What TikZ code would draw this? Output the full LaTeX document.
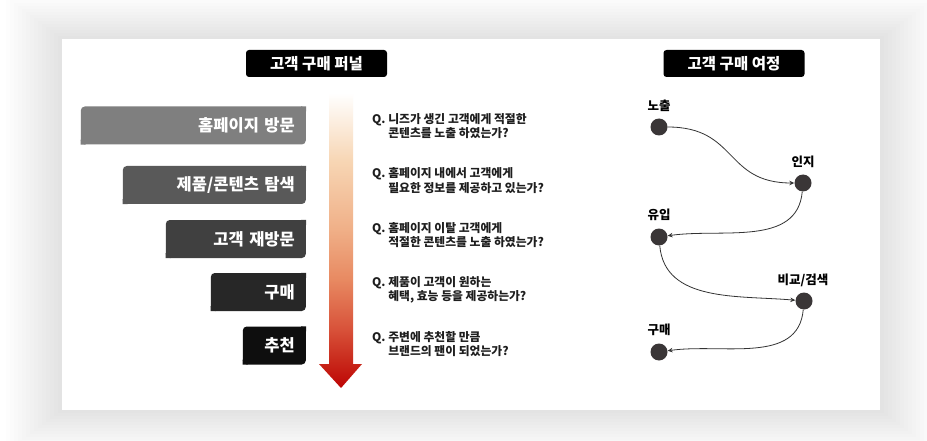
\documentclass[tikz,border=0pt]{standalone}
\usepackage{fontspec}
\setmainfont{Noto Sans CJK KR}
\usetikzlibrary{arrows.meta}

\definecolor{barA}{HTML}{7F7F7F}
\definecolor{barB}{HTML}{595959}
\definecolor{barC}{HTML}{404040}
\definecolor{barD}{HTML}{272727}
\definecolor{barE}{HTML}{0E0E0E}
\definecolor{qtext}{HTML}{1E1E1E}
\definecolor{stagefill}{HTML}{3A3637}
\definecolor{flowline}{HTML}{333333}

% funnel arrow: white at the top, peach, orange, red at the tip
\pgfdeclareverticalshading{funnelshade}{100bp}{%
    rgb(0bp)=(0.745,0.016,0.016);
    rgb(25bp)=(0.745,0.016,0.016);
    rgb(29.75bp)=(0.788,0.165,0.110);
    rgb(35bp)=(0.847,0.322,0.227);
    rgb(43.5bp)=(0.910,0.541,0.384);
    rgb(52bp)=(0.941,0.690,0.533);
    rgb(63.5bp)=(0.969,0.839,0.706);
    rgb(75bp)=(1,1,1);
    rgb(100bp)=(1,1,1)}

\begin{document}
\begin{tikzpicture}[x=1pt,y=1pt,
    bar/.style={anchor=east, minimum height=38pt, inner xsep=11pt, inner ysep=0pt,
        align=right, text=white, rounded corners=4pt,
        font=\fontsize{16.5}{18}\selectfont\bfseries},
    headbox/.style={fill=black, text=white, rounded corners=3pt, minimum width=141pt,
        minimum height=27pt, inner sep=0pt, font=\fontsize{15.5}{17}\selectfont\bfseries},
    question/.style={anchor=west, align=left, text=qtext, inner sep=0pt,
        font=\fontsize{11.8}{14.5}\selectfont\bfseries},
    stage/.style={circle, fill=stagefill, minimum size=17pt, inner sep=0pt},
    stagelabel/.style={inner sep=0pt, font=\fontsize{12.5}{14}\selectfont\bfseries},
    flow/.style={draw=flowline, line width=0.8pt, -{Stealth[length=5pt,width=4.5pt]}}]
    \useasboundingbox (0,0) rectangle (927,-441);

    %page and shadow
    \fill[white] (0,0) rectangle (927,-441);
    \foreach \s in {1,...,14}
        \fill[black, opacity=0.006] (62-4*\s,-39+3*\s) rectangle (880+4*\s,-410-3*\s);
    \fill[white] (62,-39) rectangle (880,-410);

    %funnel
    \node[headbox] (funneltitle) at (316.5,-63.5) {고객 구매 퍼널};

    \node[bar, fill=barA, minimum width=225pt, text width=203pt] (visit) at (306,-125.5) {홈페이지 방문};
    \node[bar, fill=barB, minimum width=183pt, text width=161pt] (explore) at (306,-185) {제품/콘텐츠 탐색};
    \node[bar, fill=barC, minimum width=140pt, text width=118pt] (revisit) at (306,-239) {고객 재방문};
    \node[bar, fill=barD, minimum width=95pt, text width=73pt] (purchase) at (306,-292) {구매};
    \node[bar, fill=barE, minimum width=63pt, text width=41pt] (recommend) at (306,-345.5) {추천};
    \fill[barA] (visit.south west) rectangle +(5,5) (visit.north east) rectangle +(-5,-5);
    \fill[barB] (explore.south west) rectangle +(5,5) (explore.north east) rectangle +(-5,-5);
    \fill[barC] (revisit.south west) rectangle +(5,5) (revisit.north east) rectangle +(-5,-5);
    \fill[barD] (purchase.south west) rectangle +(5,5) (purchase.north east) rectangle +(-5,-5);
    \fill[barE] (recommend.south west) rectangle +(5,5) (recommend.north east) rectangle +(-5,-5);

    \shade[shading=funnelshade]
        (329,-93) -- (353,-93) -- (353,-364) -- (362,-364) -- (341,-388)
        -- (319,-364) -- (329,-364) -- cycle;

    \node[question] (q1) at (372,-126) {Q.~니즈가 생긴 고객에게 적절한\\\hphantom{Q.~}콘텐츠를 노출 하였는가?};
    \node[question] (q2) at (372,-180.5) {Q.~홈페이지 내에서 고객에게\\\hphantom{Q.~}필요한 정보를 제공하고 있는가?};
    \node[question] (q3) at (372,-235) {Q.~홈페이지 이탈 고객에게\\\hphantom{Q.~}적절한 콘텐츠를 노출 하였는가?};
    \node[question] (q4) at (372,-290) {Q.~제품이 고객이 원하는\\\hphantom{Q.~}혜택, 효능 등을 제공하는가?};
    \node[question] (q5) at (372,-344) {Q.~주변에 추천할 만큼\\\hphantom{Q.~}브랜드의 팬이 되었는가?};

    %journey
    \node[headbox] (journeytitle) at (734,-63.5) {고객 구매 여정};

    \node[stage] (expo) at (659,-127) {};
    \node[stage] (aware) at (803,-183) {};
    \node[stage] (inflow) at (659,-237) {};
    \node[stage] (compare) at (804,-301) {};
    \node[stage] (buy) at (659,-352) {};
    \node[stagelabel] (expolabel) at (659,-106) {노출};
    \node[stagelabel] (awarelabel) at (803,-162) {인지};
    \node[stagelabel] (inflowlabel) at (659,-215) {유입};
    \node[stagelabel] (comparelabel) at (803,-280) {비교/검색};
    \node[stagelabel] (buylabel) at (659,-330) {구매};

    \draw[flow] (expo) to [out=0,in=180,looseness=1.3] (aware);
    \draw[flow] (aware) to [out=-95,in=8] (inflow);
    \draw[flow] (inflow) to [out=-85,in=175] (compare);
    \draw[flow] (compare) to [out=-95,in=8] (buy);
\end{tikzpicture}
\end{document}
